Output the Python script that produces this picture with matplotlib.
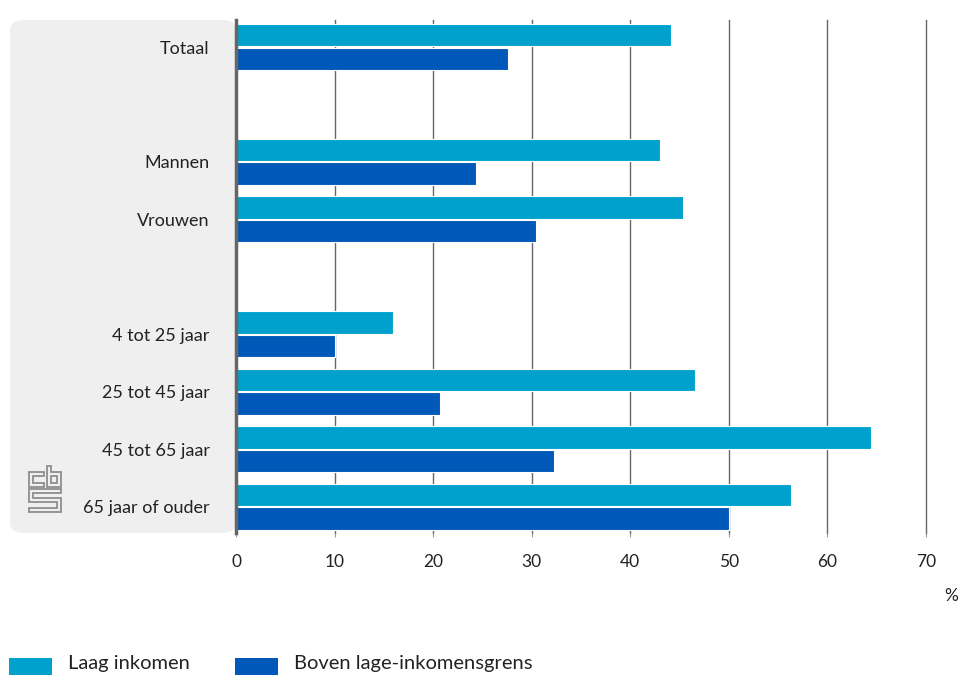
import matplotlib
matplotlib.use("Agg")
import matplotlib.pyplot as plt
from matplotlib.patches import FancyBboxPatch, Rectangle, Polygon
import numpy as np

plt.rcParams['font.family'] = ['Lato', 'DejaVu Sans']

categories = ["Totaal", "", "Mannen", "Vrouwen", "", "4 tot 25 jaar", "25 tot 45 jaar", "45 tot 65 jaar", "65 jaar of ouder"]
laag_inkomen = [44.1, np.nan, 43.0, 45.3, np.nan, 15.9, 46.6, 64.4, 56.3]
boven_grens = [27.6, np.nan, 24.3, 30.4, np.nan, 10.0, 20.7, 32.3, 50.0]
series_names = ["Laag inkomen", "Boven lage-inkomensgrens"]
xticks = [0, 10, 20, 30, 40, 50, 60, 70]

c_light = "#00A1CD"
c_dark = "#0058B8"
txt = "#222222"

W, H = 959, 675
fig = plt.figure(figsize=(W/100, H/100), dpi=100)

def fx(px): return px / W
def fy(py): return 1 - py / H

# grey panel behind the category labels
panel = FancyBboxPatch((fx(10), fy(533)), fx(236) - fx(10), fy(20) - fy(533),
                       boxstyle="round,pad=0,rounding_size=0.015",
                       transform=fig.transFigure, facecolor="#efefef", edgecolor="none", zorder=-5)
fig.patches.append(panel)

ax = fig.add_axes([fx(236), fy(533), fx(926) - fx(236), fy(20) - fy(533)])
ax.set_facecolor("none")
ax.set_zorder(1)
y = np.arange(len(categories))
h = 0.39
ax.barh(y - 0.205, laag_inkomen, height=h, color=c_light, edgecolor="white", linewidth=0.8, zorder=3)
ax.barh(y + 0.205, boven_grens, height=h, color=c_dark, edgecolor="white", linewidth=0.8, zorder=3)

ax.set_xlim(0, 70)
ax.set_ylim(8.46, -0.47)
ax.set_xticks(xticks)
ax.set_xticklabels([str(t) for t in xticks])
ax.xaxis.grid(True, color="#666666", linewidth=1.0, zorder=1)
for gl in ax.get_xgridlines():
    gl.set_clip_on(False)
ax.set_axisbelow(True)
ax.tick_params(axis="x", length=3, color="#999999", pad=12, labelsize=12.5, labelcolor=txt)
ax.set_yticks(y)
ax.set_yticklabels(categories)
ax.tick_params(axis="y", length=0, pad=19, labelsize=13, labelcolor=txt)
for s in ["top", "right", "bottom"]:
    ax.spines[s].set_visible(False)
ax.spines["left"].set_color("#666666")
ax.spines["left"].set_linewidth(2.5)
ax.spines["left"].set_zorder(5)

fig.text(fx(951), fy(596), "%", ha="center", va="center", fontsize=12.5, color=txt)

# legend
fig.patches.append(Rectangle((fx(9), fy(676)), fx(52) - fx(9), fy(658) - fy(676),
                             transform=fig.transFigure, facecolor=c_light, edgecolor="none"))
fig.text(fx(68), fy(664), series_names[0], ha="left", va="center", fontsize=14.5, color=txt)
fig.patches.append(Rectangle((fx(235), fy(676)), fx(278) - fx(235), fy(658) - fy(676),
                             transform=fig.transFigure, facecolor=c_dark, edgecolor="none"))
fig.text(fx(294), fy(664), series_names[1], ha="left", va="center", fontsize=14.5, color=txt)

# cbs logo (outline shapes)
lc = "#8e8e8e"
def shape(pts):
    fig.patches.append(Polygon([(fx(a), fy(b)) for a, b in pts], closed=True,
                               transform=fig.transFigure, facecolor="none",
                               edgecolor=lc, linewidth=1.3, zorder=2))
shape([(29, 472), (44, 472), (44, 476), (33, 476), (33, 483), (44, 483), (44, 487), (29, 487)])
shape([(47, 466), (51, 466), (51, 472), (61, 472), (61, 487), (47, 487)])
shape([(51, 476), (57, 476), (57, 483), (51, 483)])
shape([(29, 489), (61, 489), (61, 493), (33, 493), (33, 498), (61, 498), (61, 512),
       (29, 512), (29, 508), (57, 508), (57, 502), (29, 502)])

fig.savefig("out.png", dpi=100)
